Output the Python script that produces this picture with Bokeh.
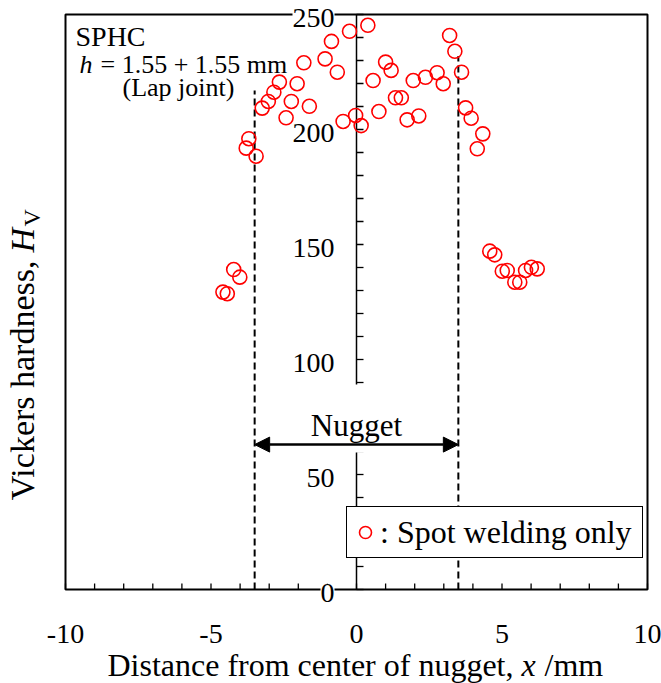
import math
from bokeh.plotting import figure
from bokeh.models import (Range1d, Label, LabelSet, ColumnDataSource,
                          Arrow, NormalHead, BoxAnnotation, Legend, LegendItem)
from bokeh.core.properties import value
from bokeh.embed import file_html
from bokeh.resources import INLINE

# ---------------- data ----------------
distance_mm = [-4.59, -4.44, -4.22, -4.01, -3.79, -3.70, -3.45, -3.24, -3.03, -2.84,
               -2.65, -2.42, -2.24, -2.04, -1.81, -1.62, -1.08, -0.86, -0.66, -0.46,
               -0.24, -0.03, 0.16, 0.39, 0.57, 0.77, 1.00, 1.19, 1.34, 1.54,
               1.74, 1.95, 2.14, 2.37, 2.77, 2.98, 3.20, 3.38, 3.61, 3.75,
               3.94, 4.15, 4.34, 4.58, 4.75, 5.01, 5.18, 5.44, 5.61, 5.81,
               6.01, 6.21]
hardness_hv = [129.3, 128.6, 139.1, 135.8, 191.9, 196.0, 188.4, 209.3, 212.2, 216.2,
               220.6, 205.1, 212.2, 219.9, 229.0, 210.1, 230.7, 238.3, 224.9, 203.5,
               242.7, 206.1, 201.7, 245.3, 221.3, 207.8, 229.3, 225.7, 213.8, 213.8,
               204.2, 221.3, 205.9, 222.7, 224.7, 219.9, 240.9, 234.0, 224.9, 209.4,
               204.9, 191.6, 198.1, 147.1, 145.5, 138.4, 138.7, 133.6, 133.6, 138.7,
               140.1, 139.4]

x_major_ticks = [-10, -5, 0, 5, 10]
x_tick_text = ["-10", "-5", "0", "5", "10"]
x_minor_ticks = list(range(-10, 11))
y_all_ticks = list(range(0, 251, 10))
y_label_ticks = [0, 50, 100, 150, 200, 250]
y_label_text = ["0", "50", "100", "150", "200", "250"]

nugget_edges = [-3.5, 3.5]
dash_tops = [217, 232]
nugget_arrow_y = 63

legend_text = ": Spot welding only"
FONT = "Liberation Serif"

# ---------------- layout (pixels) ----------------
W, H = 661, 683
FL, FR, FT, FB = 65, 647, 14, 589          # frame edges in pixels
X0, X1 = x_major_ticks[0], x_major_ticks[-1]
Y0, Y1 = y_all_ticks[0], y_all_ticks[-1]
SX = (FR - FL) / (X1 - X0)
SY = (FB - FT) / (Y1 - Y0)


def px2x(px):
    return X0 + (px - FL) / SX


def px2y(py):
    return Y0 + (FB - py) / SY


def label(px, py, text, size, align="left", style="normal", angle=0.0):
    return Label(x=px2x(px), y=px2y(py), text=text, text_align=align, text_baseline="middle",
                 text_font=FONT, text_font_size=f"{size}px", text_font_style=style,
                 angle=angle, text_color="black")


p = figure(width=W, height=H,
           x_range=Range1d(px2x(0), px2x(W)), y_range=Range1d(px2y(H), px2y(0)),
           output_backend="svg", toolbar_location=None,
           x_axis_location=None, y_axis_location=None, min_border=0)
p.outline_line_color = None
p.xgrid.visible = False
p.ygrid.visible = False
p.background_fill_color = "white"
p.border_fill_color = "white"

# frame
p.quad(left=[X0], right=[X1], bottom=[Y0], top=[Y1], fill_color=None,
       line_color="black", line_width=2)

# bottom axis ticks (inward)
p.ray(x=x_minor_ticks, y=[Y0] * len(x_minor_ticks), length=6, length_units="screen",
      angle=math.pi / 2, line_color="black", line_width=1.3)

# vertical axis through x = 0
p.segment(x0=[0], x1=[0], y0=[Y0], y1=[Y1], line_color="black", line_width=1.5)
p.ray(x=[0] * len(y_all_ticks), y=y_all_ticks, length=7, length_units="screen",
      angle=0, line_color="black", line_width=1.3)

# nugget boundaries
p.segment(x0=nugget_edges, x1=nugget_edges, y0=[Y0, Y0], y1=dash_tops,
          line_color="black", line_width=2, line_dash="7 4")

# data points
r = p.scatter(distance_mm, hardness_hv, marker="circle", size=14,
              fill_color=None, line_color="#ff0000", line_width=1.6)

# white gap behind nugget annotation
p.add_layout(BoxAnnotation(left=-0.4, right=0.4, bottom=px2y(452), top=px2y(384),
                           fill_color="white", fill_alpha=1, line_color=None))
p.add_layout(Arrow(start=NormalHead(size=15, fill_color="black", line_color="black"),
                   end=NormalHead(size=15, fill_color="black", line_color="black"),
                   x_start=nugget_edges[0], x_end=nugget_edges[1],
                   y_start=nugget_arrow_y, y_end=nugget_arrow_y,
                   line_color="black", line_width=2.5))
p.add_layout(Label(x=0, y=px2y(425), text="Nugget", text_align="center", text_baseline="middle",
                   text_font=FONT, text_font_size="31px", text_color="black"))

# y tick labels
ysrc = ColumnDataSource(dict(x=[0] * len(y_label_ticks), y=y_label_ticks, text=y_label_text))
p.add_layout(LabelSet(x="x", y="y", text="text", source=ysrc, x_offset=-22, y_offset=-3,
                      text_align="right", text_baseline="middle",
                      text_font=value(FONT), text_font_size=value("28px"), text_color="black",
                      background_fill_color="white", background_fill_alpha=1))

# x tick labels
xsrc = ColumnDataSource(dict(x=x_major_ticks, y=[px2y(633)] * len(x_major_ticks), text=x_tick_text))
p.add_layout(LabelSet(x="x", y="y", text="text", source=xsrc,
                      text_align="center", text_baseline="middle",
                      text_font=value(FONT), text_font_size=value("28px"), text_color="black"))

# top-left annotation
p.add_layout(label(75, 35.5, "SPHC", 28))
p.add_layout(label(79, 64, "h", 26, style="italic"))
p.add_layout(label(100, 64, "= 1.55 + 1.55 mm", 26))
p.add_layout(label(122, 87, "(Lap joint)", 26))

# x axis title
p.add_layout(label(513, 664, "Distance from center of nugget,", 32, align="right"))
p.add_layout(label(521, 664, "x", 32, style="italic"))
p.add_layout(label(544, 664, "/mm", 32))

# y axis title (rotated)
up = math.pi / 2
p.add_layout(label(21.5, 260, "Vickers hardness,", 34, align="right", angle=up))
p.add_layout(label(21.5, 252, "H", 34, style="italic", angle=up))
p.add_layout(label(31, 226, "V", 24, angle=up))

# legend
legend = Legend(items=[LegendItem(label=legend_text, renderers=[r])], location=(346, H - 558),
                border_line_color="black", border_line_width=1.5, border_line_alpha=1,
                background_fill_color="white", background_fill_alpha=1,
                padding=3, margin=0, spacing=0, glyph_width=30, glyph_height=44,
                label_width=259, label_standoff=0, label_text_font=FONT,
                label_text_font_size="32px", label_text_color="black")
p.add_layout(legend)

open("out.html", "w").write(file_html(p, INLINE))
